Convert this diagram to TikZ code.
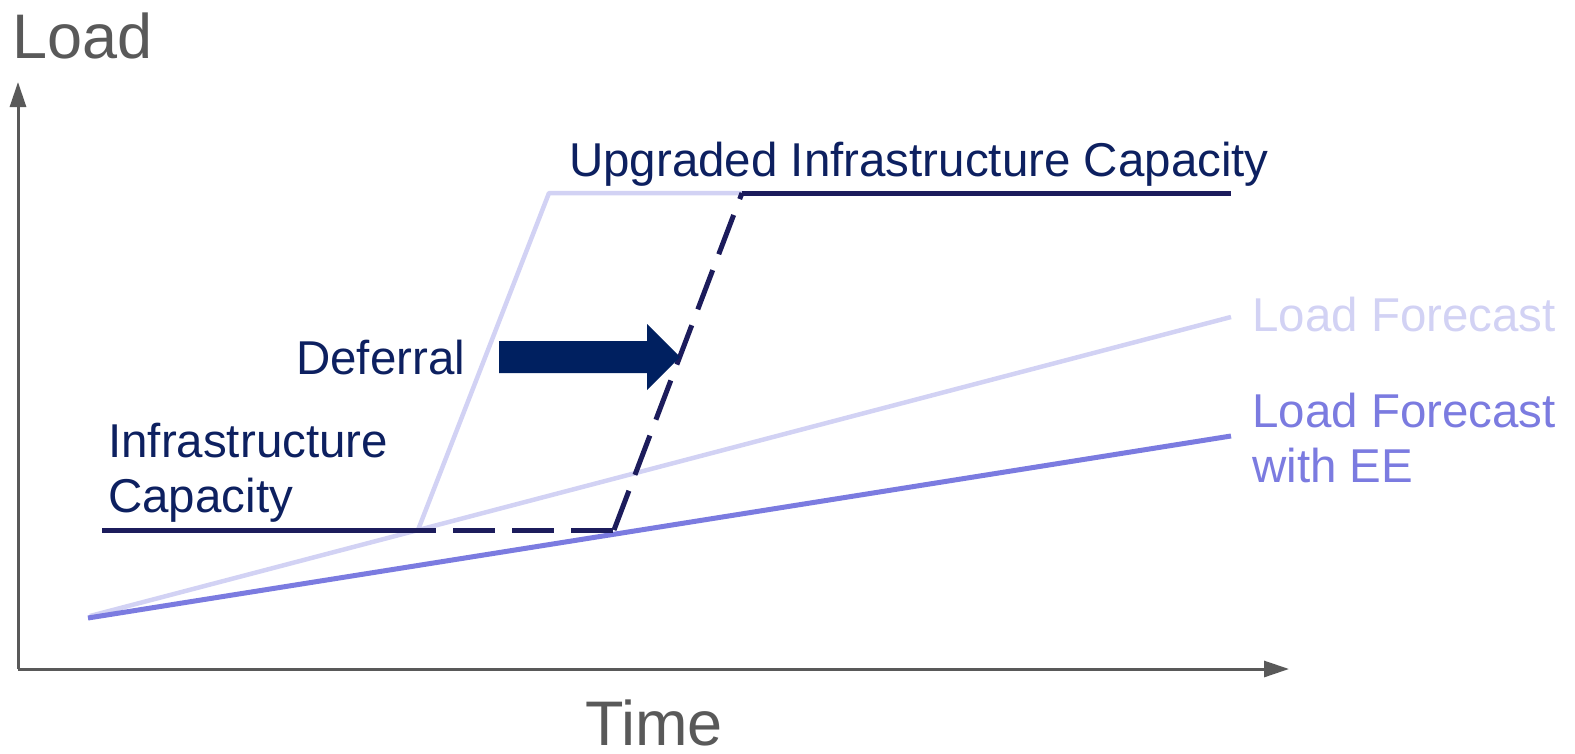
\documentclass[tikz,border=0pt]{standalone}
\usepackage{fontspec}
\setmainfont{Liberation Sans}
\usepackage{tikz}
\usetikzlibrary{arrows.meta}

\definecolor{axisgray}{HTML}{595959}
\definecolor{navytext}{HTML}{0D2060}
\definecolor{navyline}{HTML}{1C1C5C}
\definecolor{arrowfill}{HTML}{002060}
\definecolor{lightfc}{HTML}{D2D2F4}
\definecolor{eefc}{HTML}{7B7BE0}

\tikzset{
  axisline/.style={line width=3pt,color=axisgray,-{Triangle[length=25pt,width=16pt]}},
  biglabel/.style={inner sep=0pt,color=axisgray,font=\fontsize{63}{63}\selectfont},
  label/.style={inner sep=0pt,anchor=base west,align=left,font=\fontsize{47.5}{55}\selectfont},
  capdash/.style={line width=5pt,color=navyline,dash pattern=on 42pt off 17pt}
}

\begin{document}
\begin{tikzpicture}[line join=round,x=1pt,y=-1pt]
\useasboundingbox (0,0) rectangle (1575,753);

% axes
\coordinate (O) at (18,669);
\coordinate (yTip) at (18,82);
\coordinate (xTip) at (1289,669);
\draw [axisline] (O) -- (yTip);
\draw [axisline] (O) -- (xTip);
\node [biglabel,anchor=base west] (loadLbl) at (12,58) {Load};
\node [biglabel,anchor=base] (timeLbl) at (654,745) {Time};

% forecasts
\coordinate (fcStart) at (90,616);
\coordinate (fcEnd) at (1231,317);
\coordinate (eeStart) at (88,618);
\coordinate (eeEnd) at (1231,436);
\draw [line width=4.5pt,color=lightfc] (fcStart) -- (fcEnd);
\draw [line width=5pt,color=eefc] (eeStart) -- (eeEnd);

% capacity
\coordinate (capStart) at (102,530);
\coordinate (capBreak) at (418,530);
\coordinate (capSolid) at (436,530);
\coordinate (capDash) at (614,530);
\coordinate (upCorner) at (549,193);
\coordinate (upDash) at (742,193);
\coordinate (upEnd) at (1231,193);
\draw [line width=4.5pt,color=lightfc] (capBreak) -- (upCorner) -- (upDash);
\draw [line width=5pt,color=navyline] (capStart) -- (capSolid);
\draw [capdash,dash phase=42pt] (capSolid) -- (capDash);
\draw [capdash] (capDash) -- (upDash);
\draw [line width=5pt,color=navyline] (upDash) -- (upEnd);

% deferral arrow
\fill [arrowfill] (499,341) -- (647,341) -- (647,324) -- (680,357)
  -- (647,390) -- (647,373) -- (499,373) -- cycle;

% labels
\node [label,color=navytext] (upLbl) at (569,176) {Upgraded Infrastructure Capacity};
\node [label,color=navytext] (defLbl) at (296,374) {Deferral};
\node [label,color=navytext] (capLbl) at (108,512) {Infrastructure\\Capacity};
\node [label,color=lightfc] (fcLbl) at (1252,331) {Load Forecast};
\node [label,color=eefc] (eeLbl) at (1252,482) {Load Forecast\\with EE};
\end{tikzpicture}
\end{document}
